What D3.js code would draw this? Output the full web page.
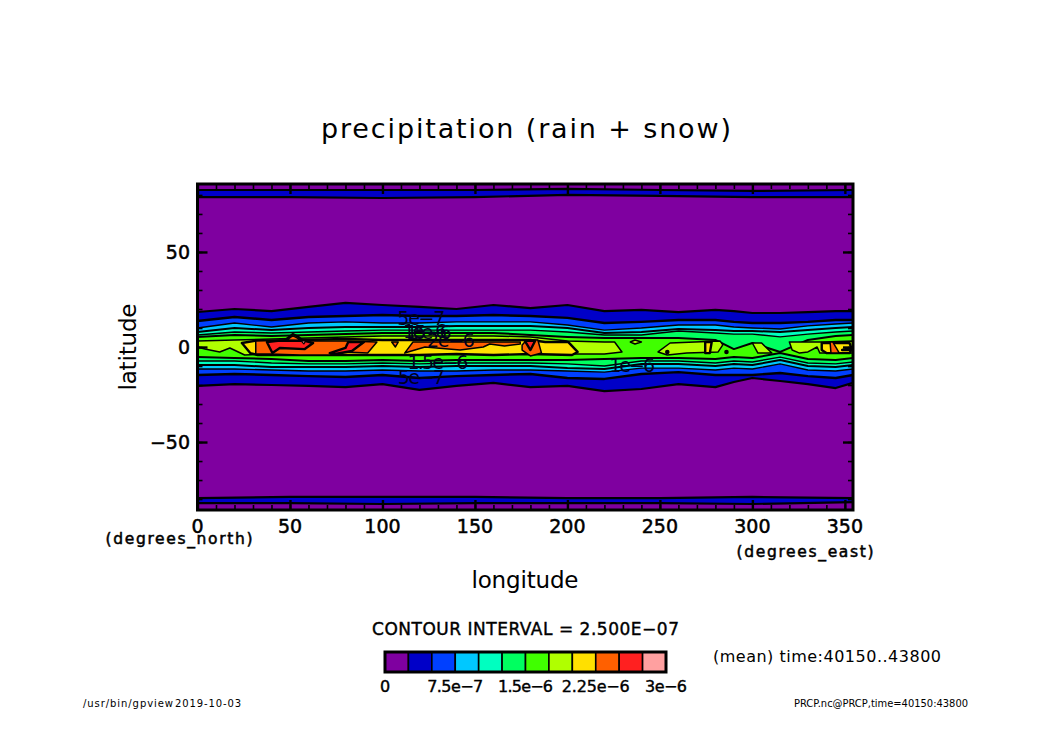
<!DOCTYPE html>
<html><head><meta charset="utf-8">
<script src="https://cdn.jsdelivr.net/npm/d3@7/dist/d3.min.js"></script>
<style>html,body{margin:0;padding:0;background:#fff}svg{display:block}text{font-family:"DejaVu Sans",sans-serif;fill:#000}</style>
</head><body><svg id="c" width="1050" height="742"></svg>
<script>
// --- data (degrees) ---
const levelColors=["#7f00a0","#0000c8","#0040ff","#00c8ff","#00ffc0","#00ff60","#40ff00","#b0ff00","#ffe000","#ff6000","#ff2020","#ffa0a0"];
const lons=[0,20,40,60,80,100,120,140,160,180,200,220,240,260,280,290,300,315,330,345,354.4];
const north1=[18.4,20,18.9,21.1,23.2,22.1,21.1,20,22.1,20.5,22.1,18.9,19.5,18.4,19.5,18.9,17.9,17.9,18.4,18.9,18.9];
const north2=[13.7,15.8,14.2,15.8,16.3,16.8,16.3,16.3,16.8,16.3,15.3,12.6,13.2,14.2,14.2,13.2,12.6,12.6,13.2,14.2,14.2];
const north3=[10,12.6,10.5,12.6,13.2,12.6,12.6,13.2,13.2,13.2,11.6,8.9,10,11.6,11.6,10.5,10,9.5,11.1,12.1,12.6];
const north4=[7.9,10,8.9,10,10.5,10.5,10.5,11.1,11.1,11.1,10,7.4,7.9,9.5,8.9,8.4,8.4,7.9,8.9,10,10.5];
const north5=[6.3,7.9,7.4,7.9,8.4,8.9,8.9,8.9,8.9,8.9,7.9,6.3,6.3,8.4,7.4,6.8,6.8,5.3,6.8,7.9,8.4];
const north6=[5.3,6.3,5.8,6.3,6.8,7.4,7.4,7.4,7.4,6.3,5.3,4.7,4.7,4.7,3.7,-1.1,2.1,-2.6,3.7,5.8,6.3];
const south1=[-20.5,-19.5,-20,-20.5,-21.1,-19.5,-22.6,-20.5,-18.9,-21.1,-20.5,-23.2,-22.1,-19.5,-21.1,-18.4,-16.3,-17.9,-19.5,-21.6,-18.9];
const south2=[-14.7,-14.2,-14.7,-15.3,-15.8,-14.7,-16.3,-15.3,-14.7,-14.2,-16.3,-16.8,-14.2,-13.2,-14.7,-14.7,-14.7,-13.7,-15.3,-16.3,-14.7];
const south3=[-11.6,-11.6,-12.1,-12.6,-12.6,-12.1,-12.6,-12.6,-12.1,-12.1,-12.6,-13.2,-11.1,-11.1,-12.1,-11.1,-11.6,-8.9,-12.1,-12.6,-11.6];
const south4=[-9.5,-9.5,-10.5,-10.5,-10.5,-10,-10.5,-10,-10,-10,-11.1,-11.6,-8.9,-8.9,-10,-8.9,-9.5,-6.8,-10,-10.5,-9.5];
const south5=[-7.4,-7.4,-8.4,-8.9,-8.9,-8.4,-8.9,-8.4,-8.4,-8.4,-8.9,-10,-7.4,-7.4,-8.4,-7.4,-7.9,-5.3,-8.4,-8.9,-7.9];
const south6=[-5.3,-5.8,-6.3,-7.4,-7.4,-6.8,-7.4,-6.8,-6.8,-6.8,-6.8,-6.3,-5.8,-5.8,-6.3,-5.3,-5.8,-3.2,-6.3,-6.8,-5.8];
const polarLons=[0,50,100,150,200,250,300,354.4];
const arcticNorth=[82.6,82.6,82.6,82.6,83.2,82.6,82.1,82.6];
const arcticSouth=[78.9,78.9,78.4,78.9,80,79.5,78.9,78.9];
const antarcticNorth=[-79.5,-78.9,-78.9,-78.9,-79.5,-79.5,-78.9,-79.5];
const antarcticSouth=[-82.1,-82.1,-82.6,-82.1,-82.1,-82.1,-82.6,-81.6];
// closed contours: [lon,lat] rings above the continuous bands
const islands7=[
 [[0,3.2],[20,3.7],[40,4.2],[60,4.7],[80,5.3],[100,5.8],[120,5.8],[140,5.8],[160,5.8],[180,5.3],[200,3.2],[220,2.6],[225.5,2.6],[229.5,-2.6],[220,-3.7],[200,-3.7],[180,-3.7],[160,-3.2],[140,-3.2],[120,-3.7],[100,-3.7],[80,-4.2],[60,-3.2],[40,-3.7],[25.5,-4.2],[17.5,-.5],[12,-2.6],[4,-1.1],[0,0]],
 [[249,-2.6],[255.5,2.1],[282.5,3.2],[284,1.1],[281.5,-2.6],[264.5,-3.2],[254,-4.2]],
 [[300,2.1],[305,2.1],[310.5,-3.2],[303,-3.2]],
 [[320,2.6],[338,2.6],[354.4,3.2],[354.4,-3.2],[336.5,-3.2],[335,0],[330,-2.6],[325.5,-3.2],[321.5,-1.6]],
 [[234,2.6],[236.5,3.7],[240,2.6],[236.5,1.6]]];
const islands8=[
 [[24,2.1],[31,3.2],[55.5,3.7],[80,4.2],[100,3.7],[120,3.7],[140,3.7],[160,3.7],[180,3.7],[188,2.6],[200.5,2.6],[205.5,-2.6],[202.5,-4.2],[180,-3.7],[160,-4.2],[140,-3.7],[120,-4.2],[100,-4.2],[80,-4.2],[66,-4.2],[44.5,-4.2],[32.5,-4.2],[28.5,-3.2]],
 [[47.5,3.7],[51.5,6.8],[54.5,5.3],[56.5,3.7]],
 [[274.5,2.6],[278,2.6],[277,-3.2],[274.5,-3.2]],
 [[337.5,2.1],[352.5,2.1],[353.5,-.5],[348.5,-1.6],[353.5,-1.6],[352.5,-3.2],[340,-3.2],[337.5,-1.6]]];
const islands9=[
 [[31.5,3.2],[50,3.7],[63.5,3.2],[80,3.2],[97,2.6],[92,-3.2],[80,-2.6],[71.5,-4.2],[55.5,-4.2],[39,-3.7],[31.5,-3.7]],
 [[48.5,3.7],[51.5,6],[54,4.7],[56,3.4]],
 [[105,2.6],[108.5,2.6],[107,0]],
 [[116.5,2.6],[174.5,2.6],[174.5,1.6],[166,.5],[158,1.6],[154.5,0],[142,-1.6],[123,0],[112,-3.2]],
 [[175.5,1.1],[178,3.7],[184,3.7],[186,-3.2],[180,-4.7],[175.5,-1.6]],
 [[342,2.6],[343.5,2.6],[347,-3.2],[342.5,-3.2]]];
const islands10=[
 [[37.5,2.6],[43.5,3.2],[52.5,3.2],[58,3.2],[62.5,2.1],[58,-1.1],[44.5,-.5],[40.5,-3.2]],
 [[71.5,-3.2],[80,-.5],[81.5,2.6],[90,2.6],[83.5,-2.1],[74.5,-3.7]],
 [[177,3.2],[182.5,3.2],[180,-1.6]]];
const islands11=[[[56,3.2],[58.5,3.2],[57.5,1.6]]];
const dotLons=[254,286]; const dotLats=[-2.6,-2.6];
const lineLabels=["5e−7","1e−6","1.5e−6","2e−6","1.5e−6","5e−7","1e−6"];
const labelLons=[121,123,125,137,130,121,235];
const labelLats=[15,8.5,8,3.8,-8,-16,-9.5];
const labelWidths=[48,44,46,48,61,47,46];
const lonTicks=[0,50,100,150,200,250,300,350];
const latTicks=[-50,0,50];
const barTicks=[0,7.5e-7,1.5e-6,2.25e-6,3e-6];
const barTickLabels=["0","7.5e−7","1.5e−6","2.25e−6","3e−6"];
const barLabelWidths=[9,56,55,68,42];
const levelWidths={1:2.2,2:2.4,3:1.4,4:2,5:1.4,6:2,7:1.5,8:2.4,9:1.5,10:2.4,11:1.2};

// --- scales ---
const x=d3.scaleLinear().domain([0,354.4]).range([197.5,853]);
const y=d3.scaleLinear().domain([-85.76,85.76]).range([510,184]);
const svg=d3.select("#c");
svg.append("defs").append("clipPath").attr("id","plot").append("rect")
 .attr("x",x(0)).attr("y",y(85.76)).attr("width",x(354.4)-x(0)).attr("height",y(-85.76)-y(85.76));
const plot=svg.append("g").attr("clip-path","url(#plot)");
const line=d3.line().x(d=>x(d[0])).y(d=>y(d[1]));
const area=d3.area().x(d=>x(d[0])).y0(d=>y(d[1])).y1(d=>y(d[2]));

plot.append("rect").attr("x",x(0)).attr("y",y(85.76)).attr("width",x(354.4)-x(0)).attr("height",y(-85.76)-y(85.76)).attr("fill",levelColors[0]);
function band(ls,n,s,level){
 const rows=ls.map((l,i)=>[l,n[i],s[i]]);
 plot.append("path").attr("d",area(rows)).attr("fill",levelColors[level]);
 [n,s].forEach(e=>plot.append("path").attr("d",line(ls.map((l,i)=>[l,e[i]]))).attr("fill","none").attr("stroke","#000").attr("stroke-width",levelWidths[level]).attr("stroke-linejoin","round"));
}
band(polarLons,arcticNorth,arcticSouth,1);
band(polarLons,antarcticNorth,antarcticSouth,1);
[[north1,south1],[north2,south2],[north3,south3],[north4,south4],[north5,south5],[north6,south6]]
 .forEach((e,i)=>band(lons,e[0],e[1],i+1));
[islands7,islands8,islands9,islands10,islands11].forEach((rings,i)=>{
 const level=i+7;
 plot.selectAll(null).data(rings).join("path").attr("d",r=>line(r)+"Z")
  .attr("fill",levelColors[level]).attr("stroke","#000").attr("stroke-width",levelWidths[level]).attr("stroke-linejoin","round");
});
plot.selectAll(null).data(dotLons).join("circle").attr("cx",d=>x(d)).attr("cy",(d,i)=>y(dotLats[i])).attr("r",2.3).attr("fill","#000");
// contour labels
svg.append("g").selectAll("text").data(lineLabels).join("text")
 .attr("x",(d,i)=>x(labelLons[i])).attr("y",(d,i)=>y(labelLats[i])+7)
 .attr("text-anchor","middle").attr("font-size",19).style("fill","#00001e")
 .attr("textLength",(d,i)=>labelWidths[i]).attr("lengthAdjust","spacing").text(d=>d);

// --- axes ---
function styleAxis(g,w){g.select(".domain").remove();g.selectAll("line").attr("stroke","#000").attr("stroke-width",w);g.selectAll("text").remove();}
const minorX=d3.range(0,360,10), minorY=d3.range(-80,90,10);
[[d3.axisBottom(x),y(-85.76)],[d3.axisTop(x),y(85.76)]].forEach(([a,p])=>{
 svg.append("g").attr("transform",`translate(0,${p})`).call(a.tickValues(minorX).tickSize(-5)).call(g=>styleAxis(g,1.6));
 svg.append("g").attr("transform",`translate(0,${p})`).call(a.tickValues(lonTicks).tickSize(-10)).call(g=>styleAxis(g,2.4));
});
[[d3.axisLeft(y),x(0)],[d3.axisRight(y),x(354.4)]].forEach(([a,p])=>{
 svg.append("g").attr("transform",`translate(${p},0)`).call(a.tickValues(minorY).tickSize(-5)).call(g=>styleAxis(g,1.6));
 svg.append("g").attr("transform",`translate(${p},0)`).call(a.tickValues(latTicks).tickSize(-10)).call(g=>styleAxis(g,2.4));
});
svg.append("rect").attr("x",x(0)).attr("y",y(85.76)).attr("width",x(354.4)-x(0)).attr("height",y(-85.76)-y(85.76)).attr("fill","none").attr("stroke","#000").attr("stroke-width",3);

function label(s,px,py,size,len,opt={}){
 const t=svg.append("text").attr("x",px).attr("y",py).attr("font-size",size).attr("text-anchor",opt.anchor||"middle").text(s);
 if(len)t.attr("textLength",len).attr("lengthAdjust",opt.adjust||"spacing");
 if(opt.bold)t.attr("stroke","#000").attr("stroke-width",opt.bold);
 if(opt.rotate)t.attr("transform",`rotate(-90 ${px} ${py})`);
 return t;
}
lonTicks.forEach(v=>label(String(v),x(v),533,19,null,{bold:.5}));
latTicks.forEach(v=>label(v<0?"−"+(-v):String(v),190,y(v)+7,19,null,{anchor:"end",bold:.5}));
label("precipitation (rain + snow)",526,138,27,410);
label("(degrees_north)",179,544,15.5,147,{bold:.5});
label("(degrees_east)",805,557,15.5,137,{bold:.5});
label("longitude",525,588,23,107);
label("latitude",136,347,23,87,{rotate:true});
label("CONTOUR INTERVAL = 2.500E−07",525.5,635,17,307,{bold:.4});
label("(mean) time:40150..43800",827,662,16,228);
label("/usr/bin/gpview",83,707,10,90,{anchor:"start"});
label("2019-10-03",175,707,10,66,{anchor:"start"});
label("PRCP.nc@PRCP,time=40150:43800",881,707,10,174,{adjust:"spacingAndGlyphs"});

// --- colour bar ---
const barV=d3.scaleLinear().domain([0,3e-6]).range([385,666]);
const barY0=652, barH=20, step=2.5e-7;
svg.append("g").selectAll("rect").data(levelColors).join("rect")
 .attr("x",(d,i)=>barV(i*step)).attr("y",barY0).attr("width",barV(step)-barV(0)).attr("height",barH)
 .attr("fill",d=>d).attr("stroke","#000").attr("stroke-width",1.6);
svg.append("rect").attr("x",barV(0)).attr("y",barY0).attr("width",barV(3e-6)-barV(0)).attr("height",barH).attr("fill","none").attr("stroke","#000").attr("stroke-width",3);
barTicks.forEach((v,i)=>label(barTickLabels[i],barV(v),692,16,barLabelWidths[i],{bold:.4}));
</script></body></html>
